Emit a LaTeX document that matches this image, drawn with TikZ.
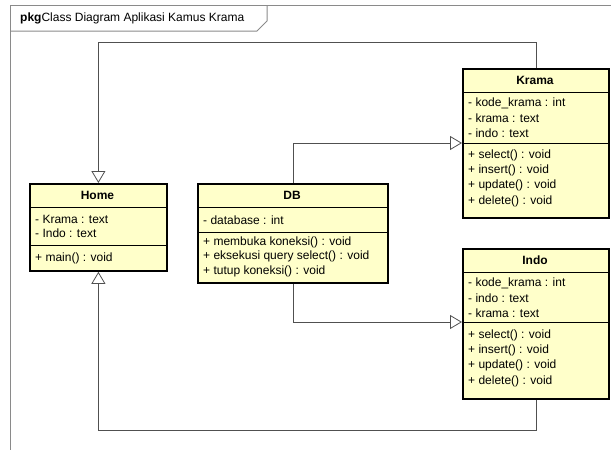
\documentclass[tikz,border=0pt]{standalone}
\usepackage{fontspec}
\setmainfont{Liberation Sans}
\usetikzlibrary{arrows.meta}
\definecolor{umlfill}{HTML}{FFFFCA}
\definecolor{wire}{HTML}{505050}
\definecolor{framegray}{HTML}{8A8A8A}

\begin{document}
\begin{tikzpicture}[x=1pt,y=-1pt,
    cls/.style={draw=black,line width=1.8pt,fill=umlfill,anchor=north west,inner sep=0pt},
    hd/.style={inner sep=0pt,font=\bfseries\fontsize{12}{14}\selectfont},
    item/.style={anchor=west,inner sep=0pt,font=\fontsize{12}{14}\selectfont},
    sepline/.style={line width=0.9pt},
    gen/.style={draw=wire,line width=0.8pt,-{Triangle[open,length=12pt,width=14pt,line width=0.8pt]}}]
\useasboundingbox (0,0) rectangle (611,450);

% package frame
\draw[framegray,line width=1pt] (10,460) -- (10,5) -- (620,5);
\draw[framegray,line width=1pt] (10,31) -- (257,31) -- (267,21) -- (267,5);
\node[item] (title) at (20,18) {\textbf{pkg}Class Diagram Aplikasi Kamus Krama};

% Home
\node[cls,minimum width=137pt,minimum height=87pt] (home) at (29,183) {};
\draw[sepline] (29,207) -- (166,207) (29,245) -- (166,245);
\node[hd] (home-h) at (97.5,195) {Home};
\foreach \t [count=\i] in {- Krama : text,- Indo : text}
  \node[item] (home-a\i) at (35,{206+13+(\i-1)*14.5}) {\t};
\node[item] (home-m1) at (35,258) {+ main() : void};

% DB
\node[cls,minimum width=190pt,minimum height=99pt] (db) at (197,183) {};
\draw[sepline] (197,207) -- (387,207) (197,232) -- (387,232);
\node[hd] (db-h) at (292,195) {DB};
\node[item] (db-a1) at (203,220) {- database : int};
\foreach \t [count=\i] in {+ membuka koneksi() : void,+ eksekusi query select() : void,+ tutup koneksi() : void}
  \node[item] (db-m\i) at (203,{242+(\i-1)*14.5}) {\t};

% Krama
\node[cls,minimum width=146pt,minimum height=149pt] (krama) at (462,68) {};
\draw[sepline] (462,92) -- (608,92) (462,143) -- (608,143);
\node[hd] (krama-h) at (535,80) {Krama};
\foreach \t [count=\i] in {- kode\_krama : int,- krama : text,- indo : text}
  \node[item] (krama-a\i) at (468,{103+(\i-1)*15}) {\t};
\foreach \t [count=\i] in {+ select() : void,+ insert() : void,+ update() : void,+ delete() : void}
  \node[item] (krama-m\i) at (468,{155+(\i-1)*15.3}) {\t};

% Indo
\node[cls,minimum width=146pt,minimum height=150pt] (indo) at (462,248) {};
\draw[sepline] (462,272) -- (608,272) (462,322) -- (608,322);
\node[hd] (indo-h) at (535,260) {Indo};
\foreach \t [count=\i] in {- kode\_krama : int,- indo : text,- krama : text}
  \node[item] (indo-a\i) at (468,{283+(\i-1)*15}) {\t};
\foreach \t [count=\i] in {+ select() : void,+ insert() : void,+ update() : void,+ delete() : void}
  \node[item] (indo-m\i) at (468,{335+(\i-1)*15.3}) {\t};

% generalisations
\coordinate (topbend) at (0,42);
\coordinate (botbend) at (0,430);
\coordinate (krama-sep) at (462,143);
\coordinate (indo-sep) at (462,322);
\draw[gen] (krama.north) -- (krama.north |- topbend) -- (home.north |- topbend) -- (home.north);
\draw[gen] (db.north) |- (krama-sep);
\draw[gen] (db.south) |- (indo-sep);
\draw[gen] (indo.south) -- (indo.south |- botbend) -- (home.south |- botbend) -- (home.south);
\end{tikzpicture}
\end{document}
